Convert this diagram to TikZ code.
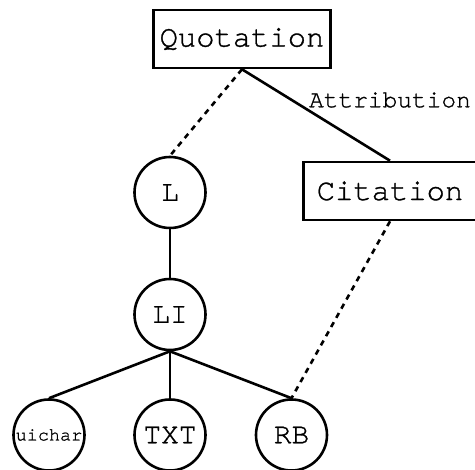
\documentclass[tikz,border=0pt]{standalone}
\usepackage{fontspec}
\newfontfamily\monofam[FakeBold=1]{texgyrecursor-regular.otf}
\begin{document}
\begin{tikzpicture}[x=1pt,y=1pt,
  lw/.style={line width=2.6pt},
  boxnode/.style={draw,lw,rectangle,inner sep=0pt,minimum width=#1,minimum height=58pt,
    font=\monofam\bfseries\fontsize{30.5}{32}\selectfont},
  circnode/.style={draw,lw,circle,inner sep=0pt,minimum size=71pt,
    font=\monofam\bfseries\fontsize{29.5}{31}\selectfont},
  conn/.style={lw},
  dconn/.style={lw,dash pattern=on 5.5pt off 5pt}]
\useasboundingbox (0,0) rectangle (475,-470);
\node[boxnode=177pt] (quot) at (242,-39) {Quotation};
\node[boxnode=173pt] (cit) at (390,-191) {Citation};
\node[circnode] (L) at (170,-192.5) {L};
\node[circnode] (LI) at (170,-314.5) {LI};
\node[circnode,font=\monofam\bfseries\fontsize{18.5}{20}\selectfont] (ui) at (49,-435) {uichar};
\node[circnode] (txt) at (170,-435) {TXT};
\node[circnode] (rb) at (291.5,-435) {RB};
\node[font=\monofam\bfseries\fontsize{24.5}{26}\selectfont,inner sep=0pt] (attr) at (390,-100) {Attribution};
\draw[dconn] (quot.south) -- (L.north);
\draw[conn] (quot.south) -- (cit.north);
\draw[dconn] (cit.south) -- (rb.north);
\draw[conn] (L.south) -- (LI.north);
\draw[conn] (LI.south) -- (ui.north);
\draw[conn] (LI.south) -- (txt.north);
\draw[conn] (LI.south) -- (rb.north);
\end{tikzpicture}
\end{document}
